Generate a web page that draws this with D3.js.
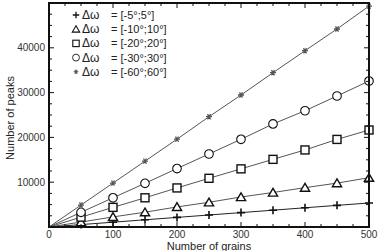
<!DOCTYPE html>
<html><head><meta charset="utf-8">
<script src="https://cdn.jsdelivr.net/npm/d3@7"></script>
<style>body{margin:0;background:#fff}svg{display:block;font-family:"Liberation Sans",Arial,sans-serif}</style>
</head><body><svg id="c" width="379" height="251"></svg>
<script>
const grains = [0, 50, 100, 150, 200, 250, 300, 350, 400, 450, 500];
const peaks5  = [0, 540, 1070, 1610, 2140, 2680, 3210, 3750, 4290, 4830, 5360];
const peaks10 = [0, 1100, 2250, 3300, 4480, 5520, 6700, 7700, 8780, 9800, 11000];
const peaks20 = [0, 2200, 4380, 6520, 8720, 10870, 12980, 15100, 17200, 19550, 21650];
const peaks30 = [0, 3280, 6520, 9750, 13050, 16300, 19580, 23000, 25950, 29240, 32580];
const peaks60 = [0, 4900, 9800, 14700, 19600, 24620, 29460, 34440, 39350, 44200, 49300];
const seriesLabels = ["[-5°;5°]", "[-10°;10°]", "[-20°;20°]", "[-30°;30°]", "[-60°;60°]"];
const markerTypes = ["plus", "triangle", "square", "circle", "star"];
const xTicks = [0, 100, 200, 300, 400, 500];
const yTicks = [10000, 20000, 30000, 40000];

const series = [peaks5, peaks10, peaks20, peaks30, peaks60].map((v, i) => ({
  label: seriesLabels[i], marker: markerTypes[i],
  pts: grains.map((g, j) => ({g, p: v[j]}))
}));

const svg = d3.select("#c");
const L = 49, R = 369, T = 3, B = 227;
const x = d3.scaleLinear().domain([0, 500]).range([L, R]);
const y = d3.scaleLinear().domain([0, 50000]).range([B, T]);

function drawMarker(g, type, cx, cy, k) {
  const s = g.append("g").attr("transform", `translate(${cx},${cy}) scale(${k})`);
  if (type === "plus") {
    s.append("path").attr("d", "M-4,0H4M0,-4V4").attr("stroke", "#111").attr("stroke-width", 1.6);
  } else if (type === "triangle") {
    s.append("path").attr("d", "M0,-4.2L4.6,3.6L-4.6,3.6Z").attr("fill", "#fff").attr("stroke", "#111").attr("stroke-width", 1.4);
  } else if (type === "square") {
    s.append("rect").attr("x", -4).attr("y", -4).attr("width", 8).attr("height", 8).attr("fill", "#fff").attr("stroke", "#111").attr("stroke-width", 1.4);
  } else if (type === "circle") {
    s.append("circle").attr("r", 4.3).attr("fill", "#fff").attr("stroke", "#111").attr("stroke-width", 1.1);
  } else {
    s.append("path").attr("d", "M-3,0H3M-1.5,-2.6L1.5,2.6M1.5,-2.6L-1.5,2.6").attr("stroke", "#555").attr("stroke-width", 1.3);
  }
}

// lines
const line = d3.line().x(d => x(d.g)).y(d => y(d.p));
series.forEach((s, i) => {
  svg.append("path").datum(s.pts).attr("d", line).attr("fill", "none")
    .attr("stroke", i === 0 ? "#222" : "#555").attr("stroke-width", 1);
});
series.forEach(s => {
  const g = svg.append("g");
  s.pts.filter(d => d.g > 0).forEach(d => drawMarker(g, s.marker, x(d.g), y(d.p), 1));
});

// frame and ticks (inward, all sides)
const ax = svg.append("g").attr("stroke", "#111");
const xMinor = d3.range(0, 501, 25), yMinor = d3.range(0, 50001, 2500);
xMinor.forEach(v => {
  const len = v % 100 === 0 ? 5 : 3;
  ax.append("line").attr("x1", x(v)).attr("x2", x(v)).attr("y1", B).attr("y2", B - len).attr("stroke-width", 1);
  ax.append("line").attr("x1", x(v)).attr("x2", x(v)).attr("y1", T).attr("y2", T + len).attr("stroke-width", 1);
});
yMinor.forEach(v => {
  const len = v % 10000 === 0 ? 5 : 3;
  ax.append("line").attr("y1", y(v)).attr("y2", y(v)).attr("x1", L).attr("x2", L + len).attr("stroke-width", 1);
  ax.append("line").attr("y1", y(v)).attr("y2", y(v)).attr("x1", R).attr("x2", R - len).attr("stroke-width", 1);
});
svg.append("rect").attr("x", L).attr("y", T).attr("width", R - L).attr("height", B - T)
  .attr("fill", "none").attr("stroke", "#111").attr("stroke-width", 2);

// tick labels
svg.append("g").selectAll("text").data(xTicks).join("text")
  .attr("x", d => x(d)).attr("y", 238).attr("text-anchor", "middle")
  .attr("font-size", 10).attr("fill", "#333").text(d => d);
svg.append("g").selectAll("text").data(yTicks).join("text")
  .attr("x", 45).attr("y", d => y(d) + 3.5).attr("text-anchor", "end")
  .attr("font-size", 10).attr("fill", "#333").text(d => d);

// axis titles
svg.append("text").attr("x", 209).attr("y", 250).attr("text-anchor", "middle")
  .attr("font-size", 11).attr("fill", "#222").text("Number of grains");
svg.append("text").attr("transform", "translate(14,118) rotate(-90)").attr("text-anchor", "middle")
  .attr("font-size", 11).attr("fill", "#222").text("Number of peaks");

// legend
series.forEach((s, i) => {
  const ly = 15 + i * 14.2;
  const g = svg.append("g");
  drawMarker(g, s.marker, 76, ly, 0.8);
  g.append("text").attr("x", 82).attr("y", ly + 4).attr("font-size", 12).attr("fill", "#222").text("Δω");
  g.append("text").attr("x", 111).attr("y", ly + 4).attr("font-size", 11).attr("fill", "#222").text("= " + s.label);
});
</script></body></html>
